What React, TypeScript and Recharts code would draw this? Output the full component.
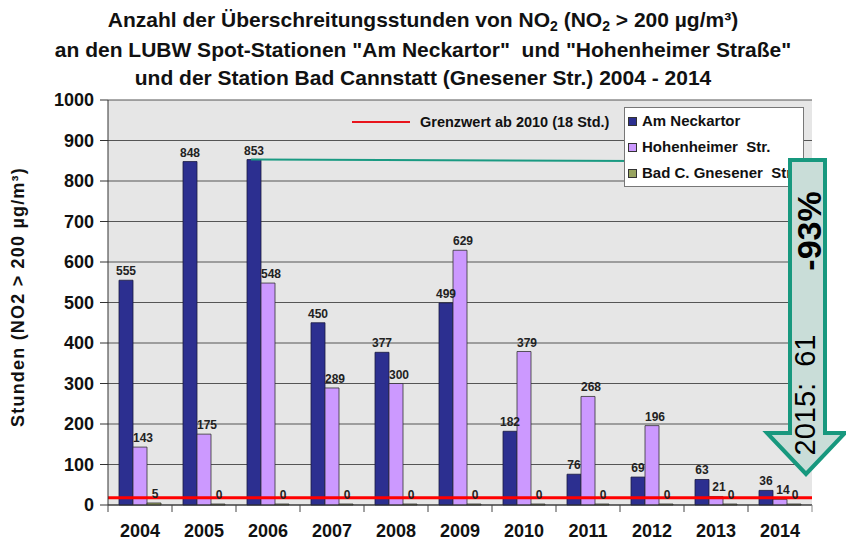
import React from "react";
import {
  Bar,
  BarChart,
  CartesianGrid,
  LabelList,
  Legend,
  ReferenceLine,
  XAxis,
  YAxis,
} from "recharts";

const years = ["2004", "2005", "2006", "2007", "2008", "2009", "2010", "2011", "2012", "2013", "2014"];
const neckartor = [555, 848, 853, 450, 377, 499, 182, 76, 69, 63, 36];
const hohenheimer = [143, 175, 548, 289, 300, 629, 379, 268, 196, 21, 14];
const gnesener = [5, 0, 0, 0, 0, 0, 0, 0, 0, 0, 0];
const yTicks = [0, 100, 200, 300, 400, 500, 600, 700, 800, 900, 1000];
const seriesOrder = ["Am Neckartor", "Hohenheimer  Str.", "Bad C. Gnesener  Str."];

const limitValue = 18;
const limitLabel = "Grenzwert ab 2010 (18 Std.)";
const peakYear = "2006";
const peakValue = 853;
const note2015 = "2015:  61";
const reductionLabel = "-93%";

const data = years.map((year, i) => ({
  year,
  neckartor: neckartor[i],
  hohenheimer: hohenheimer[i],
  gnesener: gnesener[i],
}));

const W = 846;
const H = 541;
const FONT = '"Liberation Sans", Arial, sans-serif';
const margin = { top: 100, right: 34, bottom: 0, left: 48 };
const Y_AXIS_W = 60;
const X_AXIS_H = 36;
const PLOT_LEFT = margin.left + Y_AXIS_W;
const PLOT_BOTTOM = H - margin.bottom - X_AXIS_H;
const BAND = (W - PLOT_LEFT - margin.right) / years.length;

function YearTick(props: any) {
  const { x, payload, index } = props;
  const last = index === years.length - 1;
  return (
    <g>
      <line x1={x - BAND / 2} y1={PLOT_BOTTOM} x2={x - BAND / 2} y2={PLOT_BOTTOM + 7} stroke="#444" />
      {last && (
        <line x1={x + BAND / 2} y1={PLOT_BOTTOM} x2={x + BAND / 2} y2={PLOT_BOTTOM + 7} stroke="#888" />
      )}
      <text x={x} y={PLOT_BOTTOM + 32} textAnchor="middle" fontSize={18} fontWeight="bold" fontFamily={FONT} fill="#111">
        {payload.value}
      </text>
    </g>
  );
}

function valueLabel(dx: number) {
  return (props: any) => {
    const { x, y, width, height, value } = props;
    const top = height > 0 ? y : y + height;
    return (
      <text
        x={x + width / 2 + dx}
        y={value === 0 ? PLOT_BOTTOM - 6 : top - 5}
        textAnchor="middle"
        fontSize={12}
        fontWeight="bold"
        fontFamily={FONT}
        fill="#222"
      >
        {String(value)}
      </text>
    );
  };
}

function SeriesLegend(props: any) {
  const items = [...(props.payload || [])].sort(
    (a: any, b: any) => seriesOrder.indexOf(a.value) - seriesOrder.indexOf(b.value)
  );
  return (
    <div
      style={{
        width: 178,
        height: 78,
        background: "#fff",
        border: "1px solid #777",
        fontFamily: FONT,
        fontWeight: "bold",
        fontSize: 15,
        color: "#111",
        overflow: "hidden",
        whiteSpace: "pre",
      }}
    >
      {items.map((item: any) => (
        <div key={item.value} style={{ height: 26, lineHeight: "26px", display: "flex", alignItems: "center" }}>
          <span
            style={{
              display: "inline-block",
              width: 7,
              height: 7,
              margin: "0 5px 0 3px",
              background: item.color,
              border: "1px solid #333",
            }}
          />
          {item.value}
        </div>
      ))}
    </div>
  );
}

function TealLine(props: any) {
  const { x1, y1, x2, y2 } = props;
  return <line x1={x1 - 17} y1={y1} x2={x2 + 12} y2={y2 + 2} stroke="#1a9a82" strokeWidth={2} />;
}

export default function App() {
  return (
    <div style={{ position: "relative", width: W, height: H, background: "#fff", fontFamily: FONT }}>
      <style>{"body{margin:0}"}</style>
      <div
        style={{
          position: "absolute",
          left: 0,
          top: 6,
          width: W,
          textAlign: "center",
          fontFamily: FONT,
          fontWeight: "bold",
          fontSize: 21,
          lineHeight: "28px",
          color: "#111",
          whiteSpace: "pre",
        }}
      >
        <div>
          Anzahl der Überschreitungsstunden von NO<span style={{ fontSize: 14, position: "relative", top: 4 }}>2</span> (NO
          <span style={{ fontSize: 14, position: "relative", top: 4 }}>2</span> &gt; 200 µg/m³)
        </div>
        <div>an den LUBW Spot-Stationen "Am Neckartor"  und "Hohenheimer Straße"</div>
        <div>und der Station Bad Cannstatt (Gnesener Str.) 2004 - 2014</div>
      </div>

      <BarChart
        width={W}
        height={H}
        data={data}
        margin={margin}
        barCategoryGap={11}
        barGap={0}
        style={{ position: "absolute", left: 0, top: 0 }}
      >
        <CartesianGrid yAxisId="l" vertical={false} stroke="#555" fill="#e6e6e6" />
        <XAxis
          dataKey="year"
          height={X_AXIS_H}
          axisLine={{ stroke: "#333" }}
          tickLine={false}
          tick={<YearTick />}
          interval={0}
        />
        <YAxis
          yAxisId="l"
          width={Y_AXIS_W}
          domain={[0, 1000]}
          ticks={yTicks}
          interval={0}
          tickSize={8}
          tickMargin={6}
          axisLine={{ stroke: "#333" }}
          tickLine={{ stroke: "#333" }}
          tick={{ fill: "#111", fontSize: 18, fontWeight: "bold", fontFamily: FONT }}
          label={{
            content: () => (
              <text
                x={24}
                y={297}
                transform="rotate(-90 24 297)"
                textAnchor="middle"
                fontSize={18}
                fontWeight="bold"
                fontFamily={FONT}
                letterSpacing={1.2}
                fill="#111"
              >
                Stunden (NO2 &gt; 200 µg/m³)
              </text>
            ),
          }}
        />
        <YAxis yAxisId="r" orientation="right" width={0} domain={[0, 1000]} tick={false} tickLine={false} axisLine={{ stroke: "#888" }} />
        <Legend
          layout="horizontal"
          verticalAlign="middle"
          align="center"
          content={<SeriesLegend />}
          wrapperStyle={{ left: 624, top: 107, width: 180, height: 80 }}
        />
        <Bar yAxisId="l" dataKey="neckartor" name={seriesOrder[0]} fill="#2c2f90" stroke="#1a1a40" strokeWidth={0.8} isAnimationActive={false}>
          <LabelList dataKey="neckartor" content={valueLabel(0)} />
        </Bar>
        <Bar yAxisId="l" dataKey="hohenheimer" name={seriesOrder[1]} fill="#cc99ff" stroke="#333" strokeWidth={0.8} isAnimationActive={false}>
          <LabelList dataKey="hohenheimer" content={valueLabel(3)} />
        </Bar>
        <Bar
          yAxisId="l"
          dataKey="gnesener"
          name={seriesOrder[2]}
          fill="#97a35f"
          stroke="#333"
          strokeWidth={0.8}
          minPointSize={1}
          isAnimationActive={false}
        >
          <LabelList dataKey="gnesener" content={valueLabel(1)} />
        </Bar>
        <ReferenceLine yAxisId="l" y={limitValue} stroke="#ff0000" strokeWidth={3} />
        <ReferenceLine
          yAxisId="l"
          segment={[
            { x: peakYear, y: peakValue },
            { x: years[years.length - 1], y: peakValue },
          ]}
          shape={<TealLine />}
        />
      </BarChart>

      <div
        style={{
          position: "absolute",
          left: 352,
          top: 114,
          display: "flex",
          alignItems: "center",
          fontFamily: FONT,
          fontWeight: "bold",
          fontSize: 14.5,
          color: "#111",
          whiteSpace: "nowrap",
        }}
      >
        <span style={{ display: "inline-block", width: 58, height: 2, background: "#e8141c", marginRight: 10 }} />
        {limitLabel}
      </div>

      <svg width={W} height={H} style={{ position: "absolute", left: 0, top: 0, pointerEvents: "none" }}>
        <polygon
          points="790,160 825,160 825,433 845,433 806,474 767,433 790,433"
          fill="#c9ddd8"
          stroke="#17987e"
          strokeWidth={4}
          strokeLinejoin="miter"
        />
        <text
          x={821}
          y={231}
          transform="rotate(-90 821 231)"
          textAnchor="middle"
          fontSize={34}
          fontWeight="bold"
          fontFamily={FONT}
          fill="#000"
        >
          {reductionLabel}
        </text>
        <text
          x={815}
          y={395}
          transform="rotate(-90 815 395)"
          textAnchor="middle"
          fontSize={29}
          fontFamily={FONT}
          fill="#000"
          style={{ whiteSpace: "pre" }}
        >
          {note2015}
        </text>
      </svg>
    </div>
  );
}
